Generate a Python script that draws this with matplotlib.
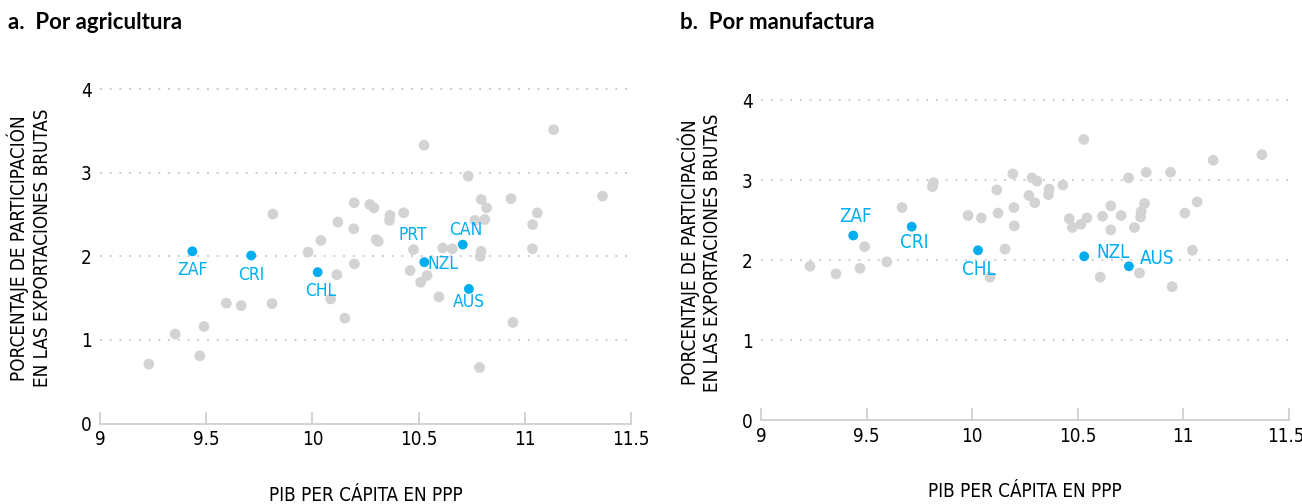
import matplotlib
matplotlib.use("Agg")
import matplotlib.pyplot as plt
from matplotlib.transforms import ScaledTranslation

# --- data: left panel (agricultura) ---
agr_x = [9.23, 9.354, 9.47, 9.49, 9.595, 9.665, 9.81, 9.814, 9.98, 10.04,
         10.086, 10.115, 10.12, 10.153, 10.195, 10.197, 10.198, 10.27, 10.29, 10.30,
         10.31, 10.363, 10.365, 10.43, 10.46, 10.476, 10.51, 10.526, 10.54, 10.596,
         10.614, 10.659, 10.734, 10.765, 10.787, 10.79, 10.795, 10.795, 10.812, 10.82,
         10.935, 10.944, 11.036, 11.037, 11.059, 11.136, 11.366]
agr_y = [0.71, 1.07, 0.81, 1.16, 1.44, 1.41, 1.435, 2.505, 2.05, 2.19,
         1.49, 1.78, 2.41, 1.26, 2.33, 2.64, 1.91, 2.62, 2.58, 2.20,
         2.18, 2.43, 2.49, 2.52, 1.83, 2.08, 1.69, 3.33, 1.77, 1.515,
         2.10, 2.09, 2.96, 2.43, 0.67, 2.00, 2.06, 2.68, 2.44, 2.58,
         2.69, 1.21, 2.09, 2.38, 2.52, 3.515, 2.72]
agr_codes = ["ZAF", "CRI", "CHL", "NZL", "CAN", "AUS"]
agr_cx = [9.435, 9.712, 10.025, 10.527, 10.708, 10.737]
agr_cy = [2.06, 2.01, 1.81, 1.93, 2.14, 1.61]
# labelled grey point
agr_tag = ("PRT", 10.476, 2.08)

# --- data: right panel (manufactura) ---
man_x = [9.232, 9.355, 9.469, 9.491, 9.596, 9.668, 9.812, 9.817, 9.981, 10.044,
         10.085, 10.117, 10.123, 10.156, 10.193, 10.198, 10.2, 10.269, 10.284, 10.297,
         10.307, 10.362, 10.365, 10.43, 10.46, 10.475, 10.515, 10.529, 10.544, 10.607,
         10.618, 10.657, 10.657, 10.706, 10.741, 10.769, 10.793, 10.798, 10.801, 10.817,
         10.825, 10.94, 10.948, 11.008, 11.044, 11.066, 11.142, 11.373]
man_y = [1.925, 1.83, 1.90, 2.17, 1.98, 2.66, 2.92, 2.97, 2.56, 2.53,
         1.79, 2.88, 2.59, 2.14, 3.08, 2.66, 2.43, 2.81, 3.03, 2.72,
         2.99, 2.82, 2.89, 2.94, 2.52, 2.41, 2.45, 3.51, 2.53, 1.79,
         2.55, 2.68, 2.38, 2.56, 3.03, 2.41, 1.84, 2.54, 2.61, 2.71,
         3.10, 3.10, 1.67, 2.59, 2.125, 2.73, 3.25, 3.32]
man_codes = ["ZAF", "CRI", "CHL", "NZL", "AUS"]
man_cx = [9.437, 9.714, 10.028, 10.531, 10.743]
man_cy = [2.31, 2.42, 2.125, 2.05, 1.925]

x_ticks = [9, 9.5, 10, 10.5, 11, 11.5]
x_tick_labels = ["9", "9.5", "10", "10.5", "11", "11.5"]
y_ticks = [0, 1, 2, 3, 4]

titles = ["a.  Por agricultura", "b.  Por manufactura"]
xlabel = "PIB PER CÁPITA EN PPP"
ylabel = "PORCENTAJE DE PARTICIPACIÓN\nEN LAS EXPORTACIONES BRUTAS"

# label offsets in pixels (layout only)
agr_off = {"ZAF": (0, -19), "CRI": (0, -20), "CHL": (3, -19), "NZL": (19, -2),
           "CAN": (3, 15), "AUS": (0, -13), "PRT": (-1, 15)}
man_off = {"ZAF": (2, 19), "CRI": (3, -16), "CHL": (1, -19), "NZL": (29, 4), "AUS": (28, 8)}

GREY = "#d3d3d3"
BLUE = "#00aeef"

plt.rcParams["font.family"] = ["DejaVu Sans"]
plt.rcParams["font.stretch"] = "condensed"

fig = plt.figure(figsize=(13.02, 5.04), dpi=100)
ax1 = fig.add_axes([0.0768, 0.1597, 0.4078, 0.6966])
ax2 = fig.add_axes([0.5845, 0.1661, 0.4053, 0.6667])


def style(ax, ypad):
    ax.set_xlim(9, 11.5)
    ax.set_ylim(0, 4.2)
    for s in ["top", "right", "left"]:
        ax.spines[s].set_visible(False)
    ax.spines["bottom"].set_color("#cccccc")
    ax.spines["bottom"].set_linewidth(1.2)
    ax.set_xticks(x_ticks)
    ax.set_xticklabels(x_tick_labels)
    ax.set_yticks(y_ticks)
    ax.tick_params(axis="x", direction="in", length=9, width=1.2, color="#cccccc",
                   labelsize=13.5, pad=5)
    ax.tick_params(axis="y", length=0, labelsize=13.5, pad=6)
    for g in y_ticks[1:]:
        ax.axhline(g, color="#cccccc", linestyle=(0, (1, 4)), linewidth=1.4, zorder=0)
    ax.set_xlabel(xlabel, fontsize=13.5, labelpad=26)
    ax.set_ylabel(ylabel, fontsize=13.5, labelpad=ypad, linespacing=1.25)


style(ax1, 21)
style(ax2, 14)
# keep the last right-hand tick label inside the canvas
last = ax2.get_xticklabels()[-1]
last.set_transform(last.get_transform() + ScaledTranslation(-3 / 100, 0, fig.dpi_scale_trans))

ax1.scatter(agr_x, agr_y, s=60, color=GREY, edgecolors="none", zorder=2)
ax1.scatter(agr_cx, agr_cy, s=50, color=BLUE, edgecolors="none", zorder=3)
for c, x, y in zip(agr_codes, agr_cx, agr_cy):
    ax1.annotate(c, (x, y), xytext=agr_off[c], textcoords="offset pixels",
                 ha="center", va="center", color=BLUE, fontsize=12.5)
c, x, y = agr_tag
ax1.annotate(c, (x, y), xytext=agr_off[c], textcoords="offset pixels",
             ha="center", va="center", color=BLUE, fontsize=12.5)

ax2.scatter(man_x, man_y, s=60, color=GREY, edgecolors="none", zorder=2)
ax2.scatter(man_cx, man_cy, s=50, color=BLUE, edgecolors="none", zorder=3)
for c, x, y in zip(man_codes, man_cx, man_cy):
    ax2.annotate(c, (x, y), xytext=man_off[c], textcoords="offset pixels",
                 ha="center", va="center", color=BLUE, fontsize=13.5)

for xpos, t in zip([0.006, 0.522], titles):
    fig.text(xpos, 0.955, t, fontsize=16, fontweight="bold",
             family=["Lato", "DejaVu Sans"], fontstretch="normal", va="center")

fig.savefig("out.png", dpi=100)
